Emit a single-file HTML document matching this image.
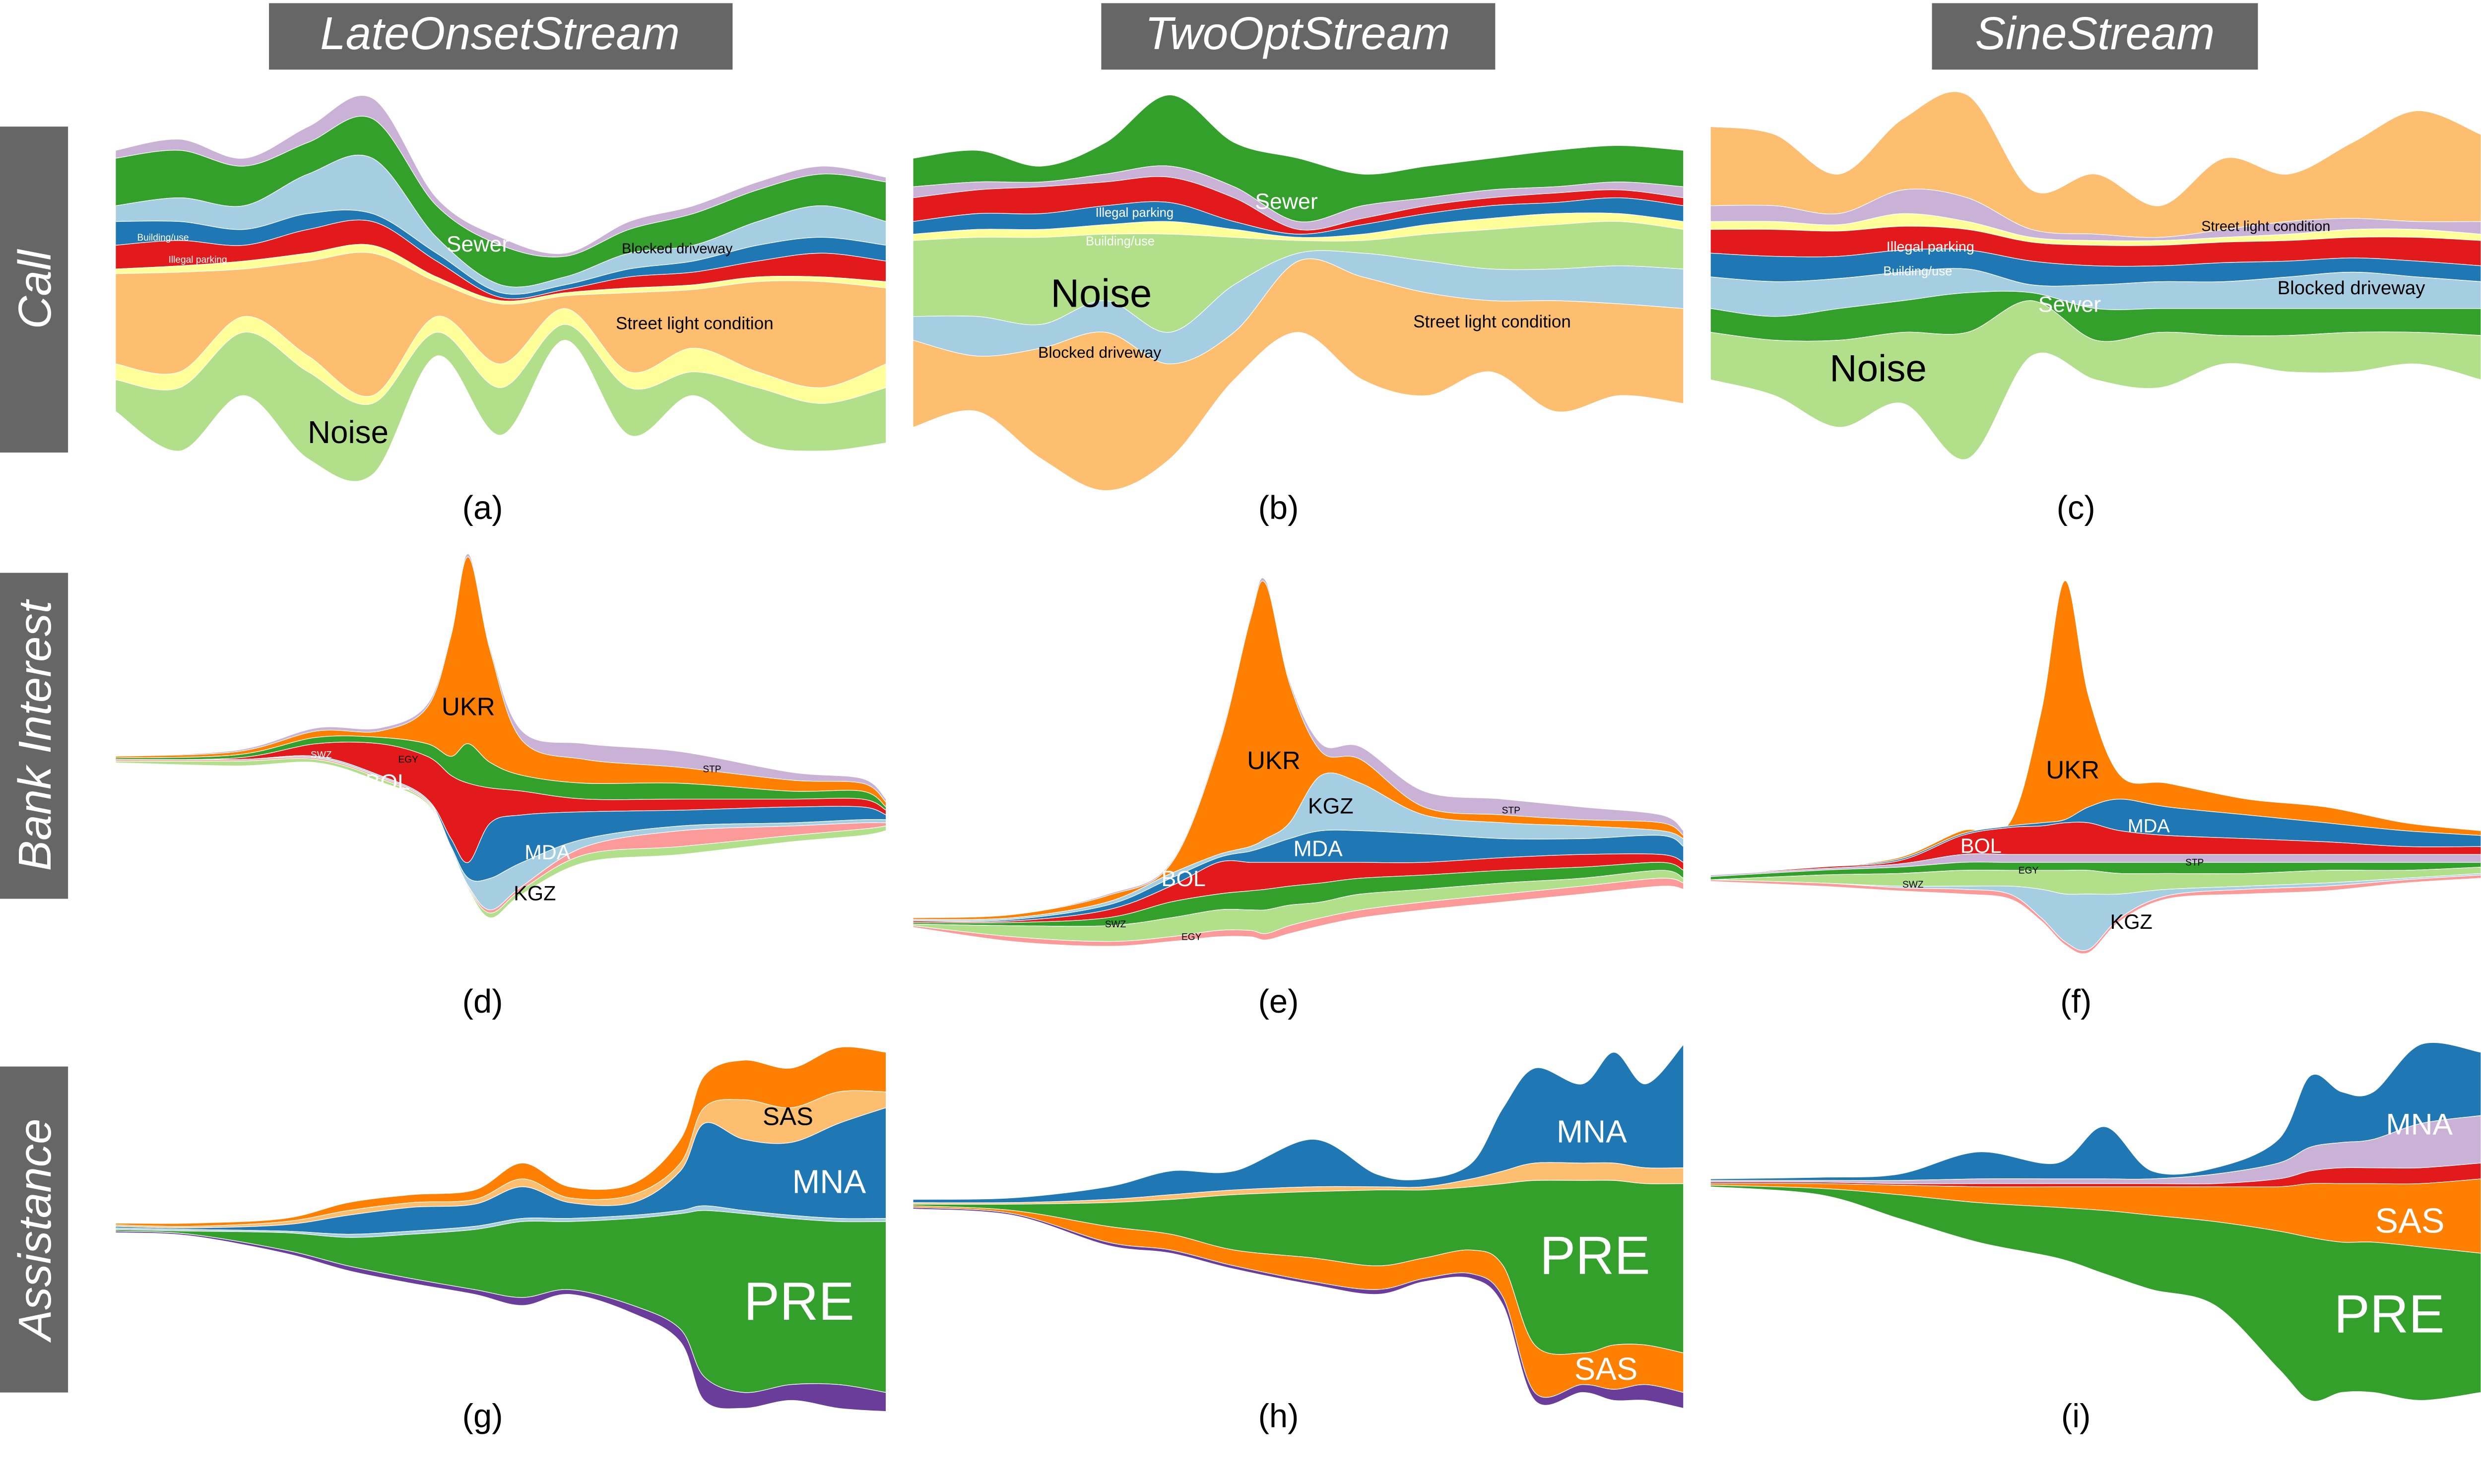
<!DOCTYPE html>
<html><head><meta charset="utf-8">
<style>
html,body{margin:0;padding:0;background:#fff;overflow:hidden;}
svg{display:block;position:absolute;left:0;top:0;width:100vw;height:58.0448vw;}
text{font-family:"Liberation Sans",sans-serif;}
</style></head><body>
<svg id="s" xmlns="http://www.w3.org/2000/svg" viewBox="0 0 1568 910" preserveAspectRatio="none">
<rect width="1568" height="910" fill="#fff"/>
<g id="layers"></g>
<rect x="170" y="2" width="293" height="42" fill="#666"/>
<text x="316" y="31" font-size="29" font-style="italic" fill="#fff" text-anchor="middle">LateOnsetStream</text>
<rect x="696" y="2" width="249" height="42" fill="#666"/>
<text x="820" y="31" font-size="29" font-style="italic" fill="#fff" text-anchor="middle">TwoOptStream</text>
<rect x="1221" y="2" width="206" height="42" fill="#666"/>
<text x="1324" y="31" font-size="29" font-style="italic" fill="#fff" text-anchor="middle">SineStream</text>
<rect x="0" y="80" width="43" height="206" fill="#666"/>
<text transform="translate(32,183) rotate(-90)" font-size="29" font-style="italic" fill="#fff" text-anchor="middle">Call</text>
<rect x="0" y="362" width="43" height="206" fill="#666"/>
<text transform="translate(32,465) rotate(-90)" font-size="29" font-style="italic" fill="#fff" text-anchor="middle">Bank Interest</text>
<rect x="0" y="674" width="43" height="206" fill="#666"/>
<text transform="translate(32,777) rotate(-90)" font-size="29" font-style="italic" fill="#fff" text-anchor="middle">Assistance</text>
<g font-size="21" fill="#000" text-anchor="middle">
<text x="305" y="328">(a)</text><text x="808" y="328">(b)</text><text x="1312" y="328">(c)</text>
<text x="305" y="640">(d)</text><text x="808" y="640">(e)</text><text x="1312" y="640">(f)</text>
<text x="305" y="902">(g)</text><text x="808" y="902">(h)</text><text x="1312" y="902">(i)</text>
</g>
<g id="labels" text-anchor="middle">
<text x="220" y="280" font-size="20">Noise</text>
<text x="302" y="159" font-size="14" fill="#fff">Sewer</text>
<text x="428" y="160" font-size="9">Blocked driveway</text>
<text x="439" y="208" font-size="11">Street light condition</text>
<text x="103" y="152" font-size="6" fill="#fff">Building/use</text>
<text x="125" y="166" font-size="6" fill="#fff">Illegal parking</text>

<text x="696" y="194" font-size="25">Noise</text>
<text x="695" y="226" font-size="10">Blocked driveway</text>
<text x="943" y="207" font-size="11">Street light condition</text>
<text x="813" y="132" font-size="14" fill="#fff">Sewer</text>
<text x="717" y="137" font-size="8" fill="#fff">Illegal parking</text>
<text x="708" y="155" font-size="8" fill="#fff">Building/use</text>

<text x="1187" y="241" font-size="24">Noise</text>
<text x="1308" y="197" font-size="14" fill="#fff">Sewer</text>
<text x="1486" y="186" font-size="12">Blocked driveway</text>
<text x="1432" y="146" font-size="9">Street light condition</text>
<text x="1220" y="159" font-size="9" fill="#fff">Illegal parking</text>
<text x="1212" y="174" font-size="8" fill="#fff">Building/use</text>

<text x="296" y="452" font-size="16">UKR</text>
<text x="245" y="499" font-size="14" fill="#fff">BOL</text>
<text x="346" y="543" font-size="13" fill="#fff">MDA</text>
<text x="338" y="569" font-size="13">KGZ</text>
<text x="203" y="479" font-size="6" fill="#fff">SWZ</text>
<text x="258" y="482" font-size="6">EGY</text>
<text x="450" y="488" font-size="6">STP</text>

<text x="805" y="486" font-size="16">UKR</text>
<text x="841" y="514" font-size="14">KGZ</text>
<text x="833" y="541" font-size="14" fill="#fff">MDA</text>
<text x="748" y="560" font-size="14" fill="#fff">BOL</text>
<text x="705" y="586" font-size="6">SWZ</text>
<text x="753" y="594" font-size="6">EGY</text>
<text x="955" y="514" font-size="6">STP</text>

<text x="1310" y="492" font-size="16">UKR</text>
<text x="1358" y="526" font-size="12" fill="#fff">MDA</text>
<text x="1252" y="539" font-size="13" fill="#fff">BOL</text>
<text x="1282" y="552" font-size="6">EGY</text>
<text x="1387" y="547" font-size="6">STP</text>
<text x="1209" y="561" font-size="6">SWZ</text>
<text x="1347" y="587" font-size="13">KGZ</text>

<text x="498" y="711" font-size="16">SAS</text>
<text x="524" y="754" font-size="21" fill="#fff">MNA</text>
<text x="505" y="834" font-size="34" fill="#fff">PRE</text>

<text x="1006" y="722" font-size="20" fill="#fff">MNA</text>
<text x="1008" y="805" font-size="34" fill="#fff">PRE</text>
<text x="1015" y="872" font-size="20" fill="#fff">SAS</text>

<text x="1529" y="717" font-size="19" fill="#fff">MNA</text>
<text x="1523" y="779" font-size="22" fill="#fff">SAS</text>
<text x="1510" y="842" font-size="34" fill="#fff">PRE</text>
</g>
</svg>
<script>
(function(){
var G='#33a02c',LB='#a6cee3',B='#1f78b4',R='#e31a1c',O='#fdbf6f',Y='#ffff99',LG='#b2df8a',P='#cab2d6',DO='#ff7f00',PK='#fb9a99',DP='#6a3d9a';
function even(a,b,n){var r=[];for(var i=0;i<n;i++)r.push(a+(b-a)*i/(n-1));return r;}
var panels=[
{xs:even(73,560,13),cols:[P,G,LB,B,R,Y,O,Y,LG],b:[
[95,88,100,80,62,125,150,160,140,130,115,105,112],
[100,95,105,90,75,130,155,162,145,135,120,110,115],
[130,125,130,110,100,150,180,175,160,155,140,130,140],
[140,140,145,135,135,160,185,180,170,165,155,150,155],
[155,152,155,145,140,165,188,183,175,172,165,160,165],
[170,168,165,160,155,175,190,185,182,180,175,175,178],
[173,172,170,165,160,178,192,187,185,183,178,178,182],
[230,235,200,225,250,200,230,195,235,220,235,245,230],
[240,245,210,235,255,210,245,205,245,235,245,255,245],
[260,285,250,290,300,225,275,215,275,250,280,285,280]]},
{xs:even(577,1064,13),cols:[G,P,R,B,Y,LG,LB,O],b:[
[100,95,105,90,60,90,100,110,105,100,95,92,95],
[118,115,115,110,105,118,140,130,125,120,118,115,118],
[125,120,118,115,112,125,145,138,130,125,122,120,125],
[140,135,135,130,128,140,148,142,135,130,128,125,130],
[148,145,145,142,140,145,150,148,142,138,135,135,140],
[152,150,150,148,148,150,152,152,148,145,142,140,145],
[200,200,205,190,210,180,160,160,165,170,170,168,170],
[215,225,220,210,230,210,165,175,185,190,190,192,195],
[270,260,290,310,290,240,210,240,250,235,260,250,255]]},
{xs:even(1081,1568,13),cols:[O,P,Y,R,B,LB,G,LG],b:[
[80,85,110,75,60,120,110,130,100,110,90,70,85],
[130,130,135,120,125,145,148,150,145,140,138,140,140],
[140,140,142,135,140,150,152,152,150,148,145,145,148],
[145,145,146,143,145,153,155,155,153,152,150,150,152],
[160,162,162,158,158,165,168,168,166,165,163,165,168],
[175,178,176,172,170,180,180,178,178,175,172,175,178],
[195,200,195,190,185,185,195,195,195,195,195,195,195],
[210,215,215,210,210,190,215,210,212,212,210,210,212],
[240,250,270,255,290,225,240,245,230,235,235,230,240]]},
{xs:[73,150,200,240,270,285,296,310,330,370,430,500,545,560],cols:[P,DO,G,R,B,LB,PK,LG],b:[
[478,474,460,460,445,400,350,410,462,470,475,488,492,505],
[478,475,462,462,447,402,352,412,468,480,485,493,495,507],
[479,477,466,466,470,478,470,482,490,495,495,500,500,510],
[480,479,470,470,478,490,495,498,500,505,505,505,505,512],
[480,480,478,490,505,530,545,520,515,513,512,510,510,515],
[480,480,478,490,505,535,555,555,545,530,522,520,518,518],
[480,480,479,491,506,536,560,575,560,535,525,522,520,520],
[481,481,480,492,507,537,561,577,562,540,535,528,524,522],
[482,484,482,494,508,538,562,580,565,545,540,532,528,525]]},
{xs:[577,640,700,740,770,790,800,815,835,860,900,950,1000,1050,1064],cols:[P,DO,LB,B,R,G,LG,PK],b:[
[580,578,565,545,470,390,367,430,470,472,500,505,510,515,525],
[580,578,566,546,472,392,369,432,475,480,510,515,518,520,528],
[581,580,570,552,540,535,530,520,490,495,515,520,522,525,530],
[582,581,572,555,542,538,535,530,525,525,527,530,530,528,535],
[582,582,575,560,545,545,545,545,545,545,545,542,540,540,545],
[583,583,580,570,565,563,562,560,558,555,553,550,548,545,550],
[584,585,585,580,575,575,575,572,570,565,562,558,555,550,555],
[585,592,595,592,588,588,590,585,580,575,570,565,560,555,558],
[586,595,598,595,592,592,594,590,585,580,575,570,565,560,562]]},
{xs:[1081,1150,1200,1240,1270,1290,1305,1320,1340,1370,1420,1470,1520,1568],cols:[DO,B,R,P,G,LG,LB,PK],b:[
[553,548,542,525,520,450,367,440,490,495,505,510,520,525],
[553,548,543,527,522,520,518,510,505,510,515,520,525,528],
[553,548,544,528,523,522,520,520,525,528,530,532,535,535],
[553,549,546,540,540,540,540,540,540,540,540,540,540,540],
[554,550,548,545,545,545,545,545,545,545,545,545,545,545],
[556,553,552,550,550,550,550,550,552,552,552,550,550,548],
[556,558,560,560,560,562,565,565,565,562,560,558,555,552],
[556,558,561,562,565,580,595,600,580,566,562,560,556,553],
[557,560,563,565,568,582,597,602,582,568,565,563,558,555]]},
{xs:[73,120,180,220,260,300,330,360,400,430,445,470,500,530,560],cols:[DO,O,B,LB,G,DP],b:[
[773,773,770,760,755,752,735,750,748,720,680,670,675,662,665],
[774,775,772,765,760,758,745,757,755,735,700,695,700,690,690],
[775,776,774,768,763,761,750,760,760,740,710,720,722,710,700],
[776,777,778,780,778,775,770,770,768,765,762,765,768,770,770],
[777,778,779,782,780,777,772,772,770,767,765,767,770,772,772],
[778,780,790,800,808,815,820,815,825,840,870,880,875,875,880],
[779,781,792,803,811,818,825,818,830,848,885,890,885,890,892]]},
{xs:[577,640,700,740,780,830,870,900,930,950,970,1000,1020,1040,1064],cols:[B,O,G,DO,DP],b:[
[758,757,750,740,740,720,742,745,735,700,675,685,665,685,660],
[760,760,758,755,752,750,750,750,745,740,735,735,735,738,738],
[761,761,760,758,755,753,752,752,750,748,746,746,746,748,748],
[762,765,775,780,790,795,800,795,790,800,850,855,850,850,855],
[763,767,785,790,800,810,815,808,805,820,880,875,878,875,880],
[764,768,787,792,802,812,818,810,808,825,885,880,885,885,890]]},
{xs:[1081,1150,1200,1250,1300,1330,1360,1400,1440,1460,1480,1500,1530,1568],cols:[B,P,R,DO,G],b:[
[745,744,742,728,735,712,740,738,720,680,690,690,660,665],
[746,746,746,745,745,745,745,742,735,725,722,720,710,705],
[747,747,748,748,748,748,748,748,745,740,738,738,738,735],
[748,748,749,750,750,750,750,750,750,748,748,748,748,745],
[749,751,755,760,763,765,768,772,778,782,785,785,788,792],
[750,755,770,785,795,805,815,825,865,885,880,880,885,880]]}
];
function seg(xs,ys,start){
  var pts=xs.map(function(x,i){return [x,ys[i]];});
  var d=start?('M'+pts[0][0]+','+pts[0][1]):('L'+pts[0][0]+','+pts[0][1]);
  for(var i=0;i<pts.length-1;i++){
    var p0=pts[Math.max(0,i-1)],p1=pts[i],p2=pts[i+1],p3=pts[Math.min(pts.length-1,i+2)];
    var c1x=p1[0]+(p2[0]-p0[0])/6,c1y=p1[1]+(p2[1]-p0[1])/6;
    var c2x=p2[0]-(p3[0]-p1[0])/6,c2y=p2[1]-(p3[1]-p1[1])/6;
    d+='C'+c1x.toFixed(1)+','+c1y.toFixed(1)+' '+c2x.toFixed(1)+','+c2y.toFixed(1)+' '+p2[0]+','+p2[1];
  }
  return d;
}
var g=document.getElementById('layers'),html='';
panels.forEach(function(p){
  var rx=p.xs.slice().reverse();
  for(var k=0;k<p.cols.length;k++){
    var d=seg(p.xs,p.b[k],true)+seg(rx,p.b[k+1].slice().reverse(),false)+'Z';
    html+='<path d="'+d+'" fill="'+p.cols[k]+'" stroke="#fff" stroke-width="0.4"/>';
  }
});
g.innerHTML=html;
})();
</script>
</body></html>
